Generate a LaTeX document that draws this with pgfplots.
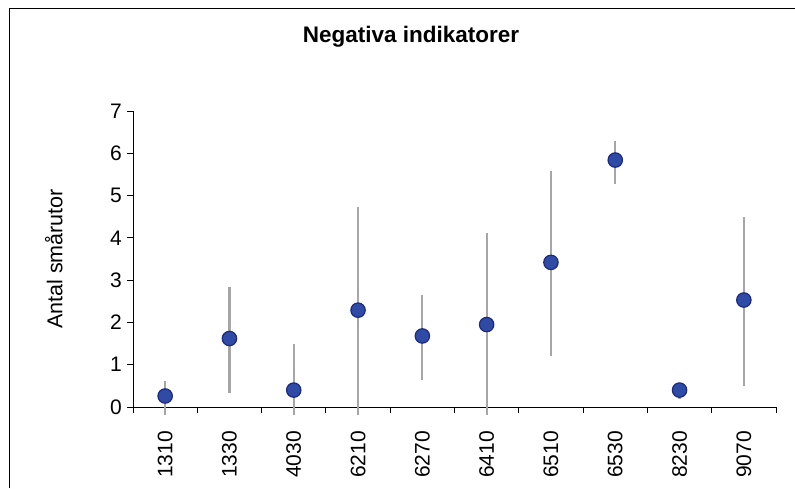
\documentclass[border=0pt]{standalone}
\usepackage{fontspec}
\setmainfont{Liberation Sans}
\usepackage{pgfplots}
\pgfplotsset{compat=1.18}
\usepackage{pgfplotstable}

\definecolor{dotfill}{HTML}{2F4BA6}
\definecolor{dotedge}{HTML}{1B2A80}
\definecolor{errgray}{HTML}{A6A6A6}

% x = category index, y = mean, ep/em = extent above/below
\pgfplotstableread{
x  y     ep    em
1  0.26  0.36  0.45
2  1.62  1.22  1.30
3  0.40  1.08  0.59
4  2.29  2.44  2.48
5  1.68  0.97  1.03
6  1.95  2.17  2.14
7  3.42  2.17  2.21
8  5.84  0.46  0.56
9  0.40  0.05  0.21
10 2.53  1.97  2.03
}\indik

\begin{document}
\begin{tikzpicture}
\path[use as bounding box] (0pt,0pt) rectangle (795pt,488pt);
\draw[line width=1pt] (9pt,0pt) -- (9pt,479pt) -- (795pt,479pt);
\node[font=\fontsize{22.5}{26}\selectfont\bfseries] at (411pt,451pt) {Negativa indikatorer};
\begin{axis}[at={(133pt,81pt)}, anchor=origin,
  scale only axis, width=643pt, height=296pt,
  xmin=0.5, xmax=10.5, ymin=0, ymax=7, clip=false,
  axis x line*=bottom, axis y line*=left,
  axis line style={line width=0.9pt,-},
  every tick/.style={black,line width=0.9pt},
  tick align=outside,
  xtick={1,...,10},
  xticklabels={1310,1330,4030,6210,6270,6410,6510,6530,8230,9070},
  major x tick style={draw=none},
  minor xtick={0.5,1.5,...,10.5},
  minor tick length=6pt,
  ytick={0,...,7}, major tick length=6pt,
  /pgf/number format/assume math mode=true,
  tick label style={font=\fontsize{21}{25}\selectfont},
  yticklabel style={inner sep=0pt, xshift=-5pt},
  xticklabel style={rotate=90, anchor=east, inner sep=0pt, xshift=-18pt},
  ylabel={Antal smårutor},
  ylabel style={font=\fontsize{21.5}{25}\selectfont, at={(axis description cs:-0.104,0.5)}, anchor=south},
  ]
\addplot[draw=none, mark=none,
  error bars/.cd, y dir=both, y explicit,
  error mark=none, error bar style={errgray, line width=2.2pt}]
  table[x=x, y=y, y error plus=ep, y error minus=em] {\indik};
\addplot[only marks, mark=*, mark size=7.2pt,
  mark options={fill=dotfill, draw=dotedge, line width=1.2pt}]
  table[x=x, y=y] {\indik};
\end{axis}
\end{tikzpicture}
\end{document}
